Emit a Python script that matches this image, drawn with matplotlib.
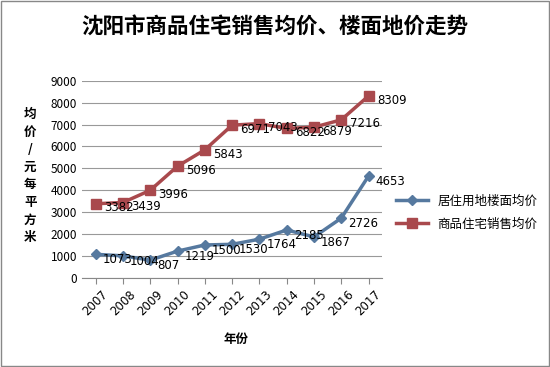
import matplotlib.pyplot as plt

plt.rcParams['font.family'] = ['Noto Sans CJK SC', 'DejaVu Sans']

years = ['2007', '2008', '2009', '2010', '2011', '2012', '2013', '2014', '2015', '2016', '2017']
land_price = [1073, 1004, 807, 1219, 1500, 1530, 1764, 2185, 1867, 2726, 4653]
house_price = [3382, 3439, 3996, 5096, 5843, 6971, 7043, 6822, 6879, 7216, 8309]
yticks = [0, 1000, 2000, 3000, 4000, 5000, 6000, 7000, 8000, 9000]

fig = plt.figure(figsize=(5.5, 3.67), dpi=100)
ax = fig.add_axes([0.149, 0.243, 0.546, 0.537])

x = list(range(len(years)))
blue = '#56799F'
red = '#A9494D'
ax.plot(x, land_price, color=blue, lw=2.5, marker='D', ms=5.5, label='居住用地楼面均价', zorder=3)
ax.plot(x, house_price, color=red, lw=2.5, marker='s', ms=7.5, label='商品住宅销售均价', zorder=3)

for i, v in enumerate(land_price):
    ax.annotate(str(v), (i, v), xytext=(5, -4), textcoords='offset points',
                fontsize=8.5, va='center', ha='left', family='DejaVu Sans')
for i, v in enumerate(house_price):
    ax.annotate(str(v), (i, v), xytext=(6, -3), textcoords='offset points',
                fontsize=8.5, va='center', ha='left', family='DejaVu Sans')

ax.set_xlim(-0.5, len(years) - 0.5)
ax.set_ylim(0, 9000)
ax.set_yticks(yticks)
ax.set_xticks(x)
ax.set_xticklabels(years, rotation=45, fontsize=8.5, family='DejaVu Sans')
ax.tick_params(axis='y', labelsize=8.5, length=0)
ax.tick_params(axis='x', length=4, color='#888888')
ax.yaxis.grid(True, color='#999999', lw=0.8)
ax.set_axisbelow(True)
for s in ['top', 'right', 'left']:
    ax.spines[s].set_visible(False)
ax.spines['bottom'].set_color('#888888')

fig.text(0.5, 0.925, '沈阳市商品住宅销售均价、楼面地价走势', ha='center', va='center',
         fontsize=15.5, fontweight='bold')
fig.text(0.43, 0.075, '年份', ha='center', va='center', fontsize=9, fontweight='bold')
fig.text(0.055, 0.52, '均\n价\n/\n元\n每\n平\n方\n米', ha='center', va='center',
         fontsize=9, fontweight='bold', linespacing=1.45)

fig.legend(loc='center left', bbox_to_anchor=(0.7, 0.42), frameon=False, fontsize=9,
           handlelength=2.5, labelspacing=0.8)

fig.patches.append(plt.Rectangle((0.002, 0.003), 0.996, 0.994, transform=fig.transFigure,
                                 fill=False, edgecolor='#888888', lw=1))

fig.savefig('out.png', dpi=100)
